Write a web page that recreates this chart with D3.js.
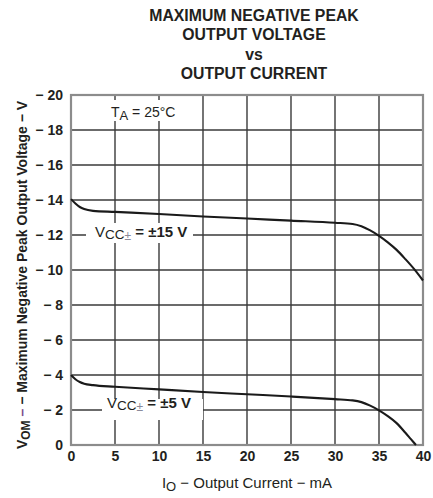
<!DOCTYPE html>
<html><head><meta charset="utf-8">
<script src="https://cdn.jsdelivr.net/npm/d3@7"></script>
<style>
html,body{margin:0;padding:0;background:#fff;}
svg{display:block;}
text{font-family:"Liberation Sans",Arial,Helvetica,sans-serif;fill:#231f20;}
</style></head>
<body>
<svg id="chart" width="433" height="498"></svg>
<script>
const titleLines = ["MAXIMUM NEGATIVE PEAK", "OUTPUT VOLTAGE", "vs", "OUTPUT CURRENT"];
const xTicks = [0, 5, 10, 15, 20, 25, 30, 35, 40];
const yTicks = [0, 2, 4, 6, 8, 10, 12, 14, 16, 18, 20];
const yTickLabels = ["0", "\u2212 2", "\u2212 4", "\u2212 6", "\u2212 8", "\u2212 10", "\u2212 12", "\u2212 14", "\u2212 16", "\u2212 18", "\u2212 20"];
// Output current (mA) and |negative peak voltage| (V), VCC = ±15 V
const current15 = [0, 0.5, 1, 1.5, 2.5, 5, 10, 15, 20, 25, 30, 32, 33, 34, 35, 36, 37, 38, 39, 40];
const voltage15 = [14.05, 13.8, 13.6, 13.48, 13.38, 13.32, 13.2, 13.06, 12.94, 12.82, 12.7, 12.63, 12.5, 12.26, 11.95, 11.58, 11.15, 10.62, 10.05, 9.4];
// VCC = ±5 V
const current5 = [0, 0.5, 1, 1.5, 2.5, 5, 10, 15, 20, 25, 30, 32, 33, 34, 35, 36, 37, 38, 38.6, 39.2];
const voltage5 = [4.0, 3.76, 3.6, 3.5, 3.42, 3.33, 3.18, 3.03, 2.9, 2.77, 2.62, 2.55, 2.45, 2.25, 1.98, 1.65, 1.25, 0.7, 0.35, 0];

const svg = d3.select("#chart");
const L = 71, R = 423, T = 95, B = 445;
const x = d3.scaleLinear().domain([0, 40]).range([L, R]);
const y = d3.scaleLinear().domain([0, 20]).range([B, T]);

// title
const title = svg.append("g");
titleLines.forEach((t, i) => {
  title.append("text").attr("x", 254).attr("y", 21 + i * 19.4)
    .attr("text-anchor", "middle").attr("font-size", 15.8).attr("font-weight", "bold")
    .text(t);
});

// grid
const grid = svg.append("g");
grid.selectAll("line.v").data(xTicks.slice(1, -1)).join("line")
  .attr("x1", d => x(d)).attr("x2", d => x(d)).attr("y1", T).attr("y2", B)
  .attr("stroke", "#3a3a3a").attr("stroke-width", 1.4);
grid.selectAll("line.h").data(yTicks.slice(1, -1)).join("line")
  .attr("x1", L).attr("x2", R).attr("y1", d => y(d)).attr("y2", d => y(d))
  .attr("stroke", "#3a3a3a").attr("stroke-width", 1.4);
svg.append("rect").attr("x", L).attr("y", T).attr("width", R - L).attr("height", B - T)
  .attr("fill", "none").attr("stroke", "#8c8c8c").attr("stroke-width", 2.2);

// axes (labels only)
const xAxis = svg.append("g").attr("transform", `translate(0,${B})`)
  .call(d3.axisBottom(x).tickValues(xTicks).tickSize(0).tickPadding(6).tickFormat(d3.format("d")));
const yAxis = svg.append("g").attr("transform", `translate(${L},0)`)
  .call(d3.axisLeft(y).tickValues(yTicks).tickSize(0).tickPadding(8).tickFormat((d, i) => yTickLabels[i]));
[xAxis, yAxis].forEach(a => {
  a.select(".domain").remove();
  a.selectAll("text").attr("font-size", 14).attr("font-weight", "bold")
    .attr("font-family", "Liberation Sans, Arial, sans-serif").attr("fill", "#231f20");
});

// label backgrounds (cover grid)
function bg(x0, y0, w, h) {
  svg.append("rect").attr("x", x0).attr("y", y0).attr("width", w).attr("height", h).attr("fill", "#fff");
}
bg(107, 100, 74, 21);
bg(86, 223, 107, 20);
bg(102, 399, 101, 21);

// curves
const line = d3.line().x(d => x(d[0])).y(d => y(d[1])).curve(d3.curveMonotoneX);
const s15 = current15.map((c, i) => [c, voltage15[i]]);
const s5 = current5.map((c, i) => [c, voltage5[i]]);
const curves = svg.append("g");
[s15, s5].forEach(s => {
  curves.append("path").datum(s).attr("d", line)
    .attr("fill", "none").attr("stroke", "#1a1a1a").attr("stroke-width", 2.1);
});

// annotations
const ta = svg.append("text").attr("x", 111).attr("y", 116.5).attr("font-size", 14);
ta.append("tspan").text("T");
ta.append("tspan").attr("font-size", 13).attr("dy", 3).text("A");
ta.append("tspan").attr("dy", -3).text(" = 25\u00B0C");

function vcc(x0, yb, val) {
  const t = svg.append("text").attr("x", x0).attr("y", yb).attr("font-size", 15).attr("font-weight", "bold");
  t.append("tspan").attr("font-weight", "normal").text("V");
  t.append("tspan").attr("font-size", 13.5).attr("font-weight", "normal").attr("dy", 2).text("CC");
  t.append("tspan").attr("font-size", 12).attr("font-weight", "normal").attr("fill", "#8a8a9a").attr("dy", 1).text("\u00B1");
  t.append("tspan").attr("dy", -3).text(" = \u00B1" + val + " V");
}
vcc(95, 236.5, 15);
vcc(107, 408, 5);

// axis titles
const xl = svg.append("text").attr("x", 247).attr("y", 488).attr("text-anchor", "middle").attr("font-size", 15);
xl.append("tspan").text("I");
xl.append("tspan").attr("font-size", 13).attr("dy", 3).text("O");
xl.append("tspan").attr("dy", -3).text(" \u2212 Output Current \u2212 mA");

const yl = svg.append("text").attr("transform", "translate(27,275) rotate(-90)")
  .attr("text-anchor", "middle").attr("font-size", 14).attr("font-weight", "bold");
yl.append("tspan").text("V");
yl.append("tspan").attr("font-size", 12).attr("dy", 3).text("OM");
yl.append("tspan").attr("dy", -3).attr("fill", "#7a4a8a").text(" \u2013");
yl.append("tspan").text(" \u2212 Maximum Negative Peak Output Voltage \u2212 V");
</script>
</body></html>
